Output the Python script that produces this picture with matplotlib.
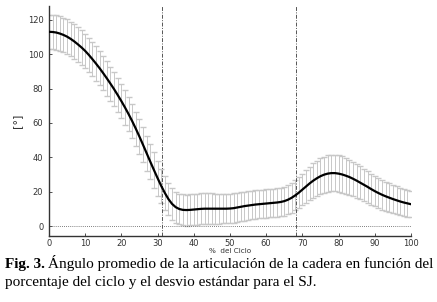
import matplotlib
matplotlib.use("Agg")
from matplotlib import pyplot as plt

# % del ciclo
ciclo = list(range(0, 101))
# ángulo medio de cadera [°]
angulo = [113.0, 112.9, 112.6, 112.0, 111.2, 110.2, 108.9, 107.4, 105.7, 103.9,
          101.9, 99.6, 97.1, 94.5, 91.8, 88.9, 85.9, 82.8, 79.6, 76.2,
          72.7, 69.0, 65.1, 61.0, 56.6, 52.0, 47.2, 42.3, 37.4, 32.6,
          27.9, 23.4, 19.3, 15.7, 12.9, 11.0, 9.9, 9.4, 9.3, 9.4,
          9.6, 9.8, 10.0, 10.1, 10.1, 10.1, 10.1, 10.1, 10.1, 10.1,
          10.2, 10.4, 10.8, 11.2, 11.6, 11.9, 12.2, 12.5, 12.7, 12.9,
          13.1, 13.3, 13.5, 13.7, 14.0, 14.5, 15.3, 16.4, 17.8, 19.4,
          21.2, 23.0, 24.8, 26.4, 27.8, 29.0, 29.9, 30.5, 30.8, 30.8,
          30.5, 30.0, 29.3, 28.5, 27.5, 26.4, 25.2, 24.0, 22.8, 21.5,
          20.3, 19.2, 18.2, 17.3, 16.5, 15.7, 15.0, 14.3, 13.7, 13.2,
          12.7]
# desvío estándar
desvio = [10.0, 10.0, 10.0, 10.0, 10.0, 10.0, 10.0, 10.0, 10.0, 10.0,
          10.0, 10.0, 10.0, 10.0, 10.0, 10.0, 10.0, 10.0, 10.0, 10.0,
          10.0, 10.0, 10.0, 10.0, 10.0, 10.0, 10.2, 10.2, 10.2, 10.2,
          10.2, 10.0, 9.8, 9.5, 9.2, 9.0, 9.0, 9.0, 9.0, 9.0,
          9.0, 9.0, 9.0, 9.0, 9.0, 8.9, 8.8, 8.7, 8.6, 8.6,
          8.6, 8.6, 8.5, 8.5, 8.4, 8.4, 8.3, 8.3, 8.3, 8.3,
          8.3, 8.3, 8.3, 8.3, 8.3, 8.4, 8.5, 8.6, 8.7, 8.9,
          9.1, 9.4, 9.7, 10.0, 10.2, 10.4, 10.5, 10.6, 10.6, 10.6,
          10.6, 10.5, 10.4, 10.2, 10.0, 9.8, 9.6, 9.4, 9.2, 9.0,
          8.9, 8.8, 8.6, 8.5, 8.4, 8.2, 8.1, 8.0, 7.9, 7.8,
          7.7]
eventos = [31.1, 68.2]
yticks = [0, 20, 40, 60, 80, 100, 120]
xticks = [0, 10, 20, 30, 40, 50, 60, 70, 80, 90, 100]

fig = plt.figure(figsize=(4.37, 3.02), dpi=100)
ax = fig.add_axes([0.112, 0.2185, 0.8285, 0.7615])

ax.errorbar(ciclo, angulo, yerr=desvio, fmt="none", ecolor="#c8c8c8",
            elinewidth=0.7, capsize=2.5, capthick=1.0, zorder=1)
ax.plot(ciclo, angulo, color="black", lw=1.6, zorder=3)

for e in eventos:
    ax.axvline(e, color="#555555", lw=0.7, ls=(0, (4, 1.5, 1, 1.5)), zorder=2)
ax.axhline(0, color="#555555", lw=0.6, ls=(0, (1, 1.5)), zorder=2)

ax.set_xlim(0, 100)
ax.set_ylim(-5.8, 128)
ax.set_xticks(xticks)
ax.set_yticks(yticks)
ax.tick_params(direction="in", length=2.5, width=0.6, labelsize=6,
               colors="#333333")
ax.tick_params(axis="x", pad=2.5)
ax.tick_params(axis="y", pad=4)
for s in ["top", "right"]:
    ax.spines[s].set_visible(False)
for s in ["left", "bottom"]:
    ax.spines[s].set_color("#333333")
    ax.spines[s].set_linewidth(1.0)

ax.set_xlabel("%  del Ciclo", fontsize=5.2, color="#333333", va="top")
ax.xaxis.set_label_coords(0.5, -0.05)
ax.set_ylabel("[°]", fontsize=8, color="#333333")
ax.yaxis.set_label_coords(-0.075, 0.5)

# pie de figura
cap = "Liberation Serif"
t1 = fig.text(5 / 437, 1 - 268 / 302, "Fig. 3.", family=cap, weight="bold",
              fontsize=11, va="baseline")
fig.canvas.draw()
bb = t1.get_window_extent()
fig.text(bb.x1 / fig.bbox.width + 0.008, 1 - 268 / 302,
         "Ángulo promedio de la articulación de la cadera en función del",
         family=cap, fontsize=11, va="baseline")
fig.text(5 / 437, 1 - 286 / 302,
         "porcentaje del ciclo y el desvio estándar para el SJ.",
         family=cap, fontsize=11, va="baseline")

fig.savefig("out.png", dpi=100)
